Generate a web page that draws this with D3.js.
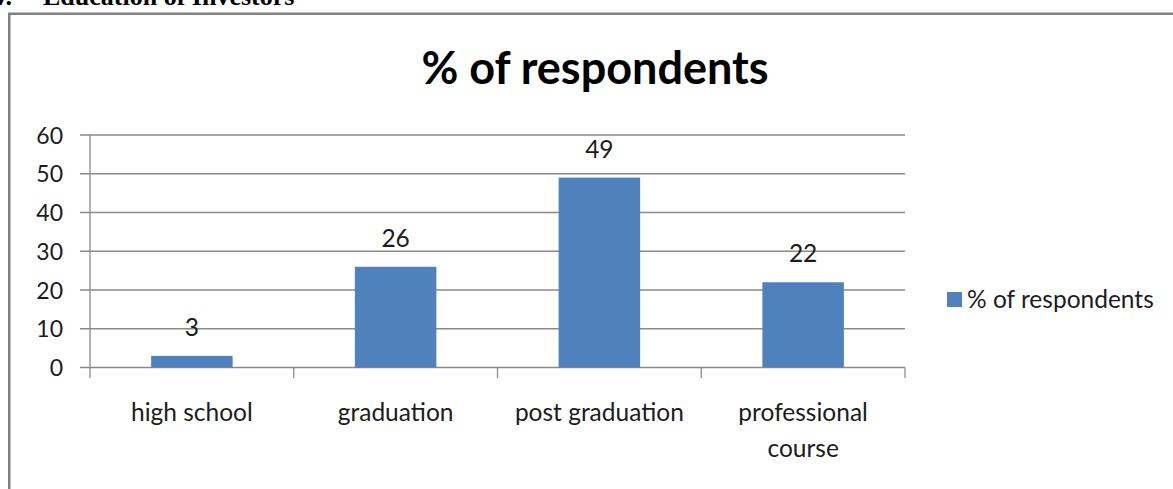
<!DOCTYPE html>
<html>
<head>
<meta charset="utf-8">
<script src="https://cdn.jsdelivr.net/npm/d3@7"></script>
<style>
  html, body { margin: 0; padding: 0; background: #fff; }
  svg { display: block; }
</style>
</head>
<body>
<svg id="chart" width="1173" height="489"></svg>
<script>
const categories = ["high school", "graduation", "post graduation", "professional course"];
const categoryLines = [["high school"], ["graduation"], ["post graduation"], ["professional", "course"]];
const values = [3, 26, 49, 22];
const yTicks = [0, 10, 20, 30, 40, 50, 60];
const seriesName = "% of respondents";
const chartTitle = "% of respondents";

const svg = d3.select("#chart");
const font = "Lato, 'Open Sans', sans-serif";
const textColor = "#1c1c1c";
const gridColor = "#8a8a8a";
const barColor = "#4F81BD";

// heading above (cut off at top edge, as in the source)
svg.append("text").attr("x", 12).attr("y", 5).attr("text-anchor", "end")
  .attr("font-family", "'Liberation Serif', 'Times New Roman', serif").attr("font-weight", "bold")
  .attr("font-size", 26).attr("fill", "#000").text("iv.");
svg.append("text").attr("x", 43).attr("y", 5)
  .attr("font-family", "'Liberation Serif', 'Times New Roman', serif").attr("font-weight", "bold")
  .attr("font-size", 26).attr("fill", "#000").text("Education of Investors");

// chart border
svg.append("rect").attr("x", 9.25).attr("y", 13.75).attr("width", 1200).attr("height", 600)
  .attr("fill", "#fff").attr("stroke", "#808080").attr("stroke-width", 2.5);

const x = d3.scaleBand().domain(categories).range([90, 905]).paddingInner(0.6).paddingOuter(0.3);
const y = d3.scaleLinear().domain([0, 60]).range([367.5, 135]);

// title
svg.append("text").attr("x", 595).attr("y", 84).attr("text-anchor", "middle")
  .attr("font-family", font).attr("font-weight", "bold").attr("font-size", 45)
  .attr("fill", "#000").text(chartTitle);

// gridlines + y ticks
const g = svg.append("g");
yTicks.forEach(t => {
  g.append("line").attr("x1", 80).attr("x2", 905).attr("y1", y(t)).attr("y2", y(t))
    .attr("stroke", gridColor).attr("stroke-width", 1.3);
  g.append("text").attr("x", 63).attr("y", y(t)).attr("dy", "0.37em").attr("text-anchor", "end")
    .attr("font-family", font).attr("font-size", 23).attr("fill", textColor).text(t);
});

// y axis line
g.append("line").attr("x1", 90).attr("x2", 90).attr("y1", y(60)).attr("y2", 378)
  .attr("stroke", gridColor).attr("stroke-width", 1.3);

// category ticks
const step = x.step();
for (let i = 1; i <= categories.length; i++) {
  const xp = 90 + i * step;
  g.append("line").attr("x1", xp).attr("x2", xp).attr("y1", y(0)).attr("y2", 378)
    .attr("stroke", gridColor).attr("stroke-width", 1.3);
}

// bars
svg.append("g").selectAll("rect").data(values).join("rect")
  .attr("x", (d, i) => x(categories[i]))
  .attr("y", d => y(d))
  .attr("width", x.bandwidth())
  .attr("height", d => y(0) - y(d))
  .attr("fill", barColor);

// data labels
svg.append("g").selectAll("text").data(values).join("text")
  .attr("x", (d, i) => x(categories[i]) + x.bandwidth() / 2)
  .attr("y", d => y(d) - 20)
  .attr("text-anchor", "middle")
  .attr("font-family", font).attr("font-size", 24.5).attr("fill", textColor)
  .text(d => d);

// category labels
categories.forEach((c, i) => {
  const cx = x(c) + x.bandwidth() / 2;
  categoryLines[i].forEach((line, j) => {
    svg.append("text").attr("x", cx).attr("y", 421 + j * 36).attr("text-anchor", "middle")
      .attr("font-family", font).attr("font-size", 24.5).attr("fill", textColor).text(line);
  });
});

// legend
svg.append("rect").attr("x", 947).attr("y", 292).attr("width", 15).attr("height", 15).attr("fill", barColor);
svg.append("text").attr("x", 967).attr("y", 307.5)
  .attr("font-family", font).attr("font-size", 24.5).attr("fill", textColor).text(seriesName);
</script>
</body>
</html>
